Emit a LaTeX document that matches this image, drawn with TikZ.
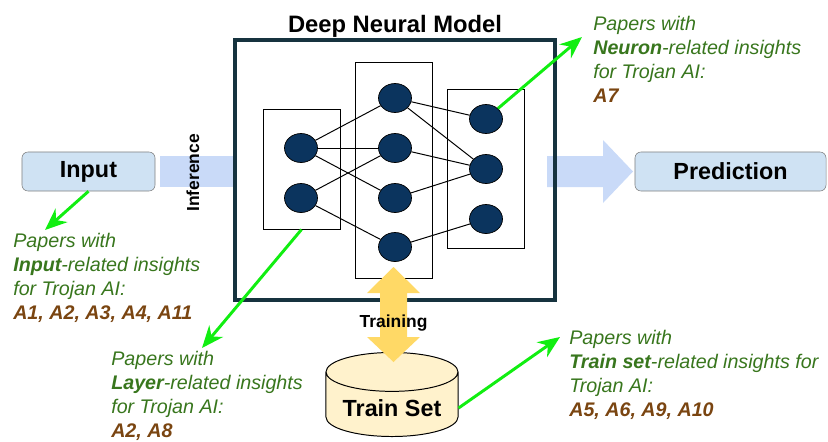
\documentclass[tikz,border=0pt]{standalone}
\usepackage{fontspec}
\setmainfont{Liberation Sans}
\usetikzlibrary{arrows.meta,shapes.geometric}
\definecolor{navy}{HTML}{0B345E}
\definecolor{frame}{HTML}{16333F}
\definecolor{boxblue}{HTML}{CFE2F3}
\definecolor{arrblue}{HTML}{C9DAF8}
\definecolor{gold}{HTML}{FFD966}
\definecolor{cream}{HTML}{FFF2CC}
\definecolor{lime}{HTML}{11EE11}
\definecolor{txtgreen}{HTML}{38761D}
\definecolor{txtbrown}{HTML}{7A4511}
\newcommand{\refs}[1]{\textcolor{txtbrown}{\bfseries #1}}
\begin{document}
\begin{tikzpicture}[x=0.025cm,y=-0.025cm,>={Stealth[length=0.55cm,width=0.45cm]},
	neuron/.style={ellipse,draw=black,line width=0.5pt,fill=navy,minimum width=0.825cm,minimum height=0.725cm,inner sep=0},
	layerbox/.style={draw,line width=0.7pt,minimum width=1.925cm,inner sep=0},
	endbox/.style={draw=gray,fill=boxblue,rounded corners=0.15cm,minimum height=0.975cm,font=\fontsize{16.6}{20}\selectfont\bfseries},
	papers/.style={anchor=north west,inner sep=0,align=left,text=txtgreen,font=\fontsize{14}{17.1}\selectfont\itshape},
	link/.style={line width=2.1pt,lime,->}]
	\useasboundingbox (0,0) rectangle (828,441);
	\fill[arrblue] (160,156) rectangle (233,187);
	\fill[arrblue] (547,156)--(603,156)--(603,140)--(633,171.5)--(603,203)--(603,187)--(547,187)--cycle;
	\node[draw=frame,line width=2.85pt,minimum width=8cm,minimum height=6.5cm] (model) at (395,170) {};
	\node[anchor=base,font=\fontsize{16.9}{20}\selectfont\bfseries] (title) at (395,32) {Deep Neural Model};
	\node[endbox,minimum width=3.325cm] (input) at (88.5,171.5) {Input};
	\node[endbox,minimum width=4.775cm] (prediction) at (730.5,171.5) {Prediction};
	\node[rotate=90,font=\fontsize{12.4}{14}\selectfont\bfseries] (inference) at (193,173) {Inference};
	\node[layerbox,minimum height=2.975cm] (layer1) at (301.5,169.5) {};
	\node[layerbox,minimum height=5.375cm] (layer2) at (393.5,170.5) {};
	\node[layerbox,minimum height=3.95cm] (layer3) at (485.5,169) {};
	\foreach \n/\y in {1/148,2/198} \node[neuron] (a\n) at (301,\y) {};
	\foreach \n/\y in {1/98,2/148,3/198,4/247} \node[neuron] (b\n) at (395,\y) {};
	\foreach \n/\y in {1/119,2/169,3/219} \node[neuron] (c\n) at (486,\y) {};
	\foreach \s/\t in {a1/b1,a1/b2,a1/b3,a2/b2,a2/b4,b1/c1,b1/c2,b2/c2,b3/c2,b4/c3}
		\draw[line width=0.7pt] (\s)--(\t);
	\node[cylinder,shape border rotate=90,aspect=0.36,draw,line width=0.7pt,fill=cream,minimum width=3.3cm,minimum height=2.1cm,anchor=south,font=\fontsize{16.6}{20}\selectfont\bfseries] (trainset) at (392,437) {Train Set};
	\fill[gold] (393.5,267)--(420,293)--(407,293)--(407,337)--(420,337)--(393.5,362)--(367,337)--(380,337)--(380,293)--(367,293)--cycle;
	\node[anchor=base,font=\fontsize{12.4}{14}\selectfont\bfseries] (training) at (393.5,327) {Training};
	\node[papers] (inputtxt) at (13,233) {Papers with\\\textbf{Input}-related insights\\for Trojan AI:\\\refs{A1, A2, A3, A4, A11}};
	\node[papers] (layertxt) at (111,351) {Papers with\\\textbf{Layer}-related insights\\for Trojan AI:\\\refs{A2, A8}};
	\node[papers] (neurontxt) at (593,16) {Papers with\\\textbf{Neuron}-related insights\\for Trojan AI:\\\refs{A7}};
	\node[papers] (traintxt) at (569,330) {Papers with\\\textbf{Train set}-related insights for\\Trojan AI:\\\refs{A5, A6, A9, A10}};
	\coordinate (inputtip) at (45,230);
	\coordinate (layertip) at (202,348);
	\coordinate (neurontip) at (582,37);
	\coordinate (traintip) at (560,337);
	\draw[link] (input.south)--(inputtip);
	\draw[link] (layer1.south)--(layertip);
	\draw[link] (c1.north east)--(neurontip);
	\draw[link] (trainset.east)--(traintip);
\end{tikzpicture}
\end{document}
